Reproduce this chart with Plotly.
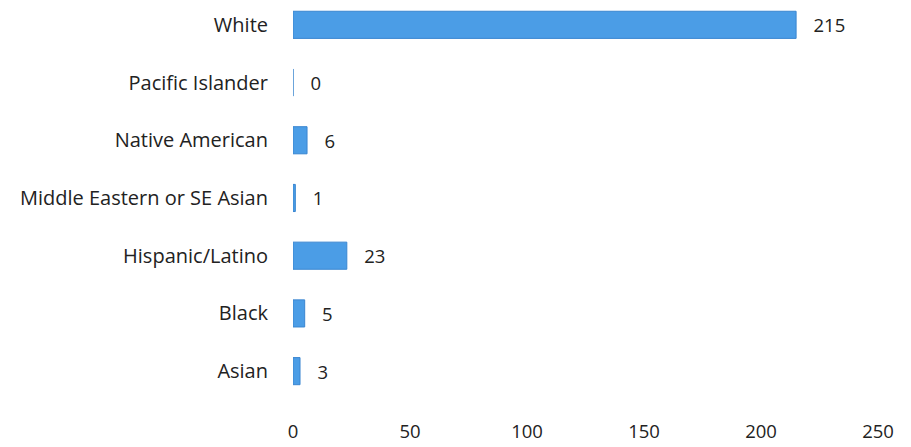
import plotly.graph_objects as go

categories = ["Asian", "Black", "Hispanic/Latino", "Middle Eastern or SE Asian",
              "Native American", "Pacific Islander", "White"]
values = [3, 5, 23, 1, 6, 0, 215]
x_ticks = [0, 50, 100, 150, 200, 250]

FONT = "Open Sans"

fig = go.Figure(go.Bar(
    y=categories, x=values, orientation="h",
    marker=dict(color="#4b9de6", line=dict(color="#3a86d0", width=1)),
    text=["   " + str(v) for v in values], textposition="outside",
    textfont=dict(family=FONT, size=18.5, color="#222222"),
    cliponaxis=False,
))

fig.update_layout(
    width=911, height=447,
    margin=dict(l=293, r=33, t=0, b=47),
    paper_bgcolor="white", plot_bgcolor="white",
    bargap=0.53,
    showlegend=False,
    font=dict(family=FONT, size=18, color="#222222"),
    xaxis=dict(range=[0, 250], tickvals=x_ticks, showgrid=False, zeroline=False,
               showline=False, ticks="outside", ticklen=15, tickcolor="rgba(0,0,0,0)",
               tickfont=dict(family=FONT, size=18.5, color="#222222")),
    yaxis=dict(type="category", categoryorder="array", categoryarray=categories,
               range=[-0.5, 6.43], showgrid=False, zeroline=False, showline=False,
               ticks="outside", ticklen=20, tickcolor="rgba(0,0,0,0)",
               tickfont=dict(family=FONT, size=20, color="#222222")),
)

fig.write_html("out.html")
